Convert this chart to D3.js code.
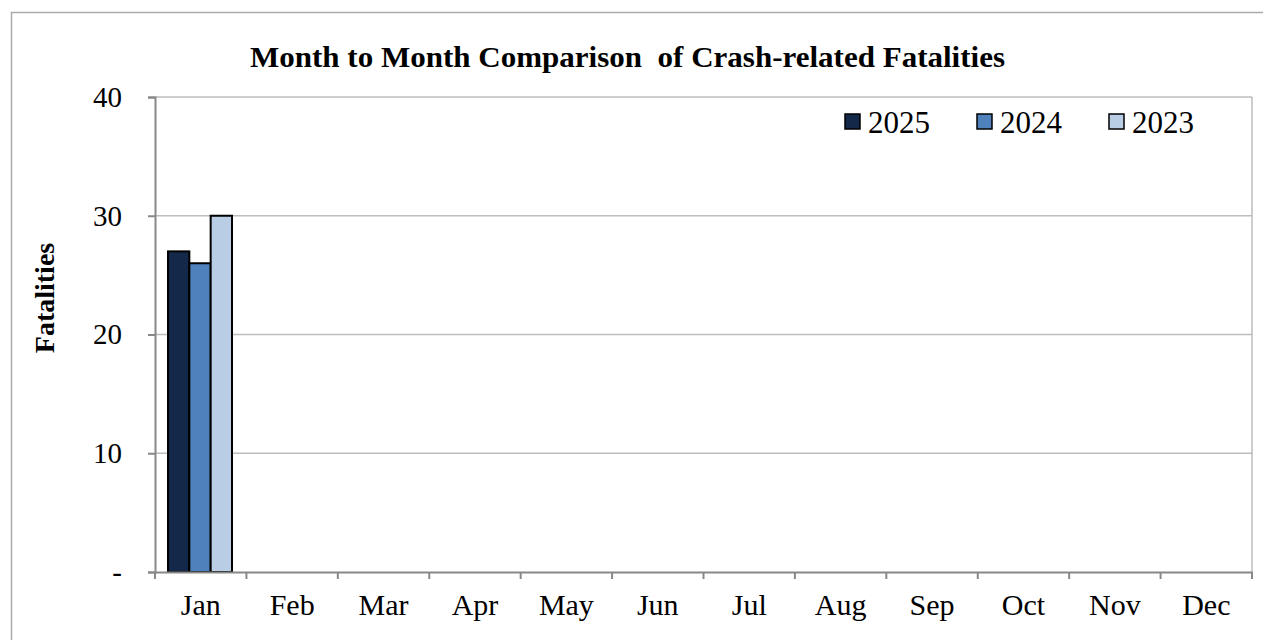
<!DOCTYPE html>
<html><head><meta charset="utf-8">
<script src="https://cdn.jsdelivr.net/npm/d3@7"></script>
<style>body{margin:0;background:#fff}svg{display:block}text{font-family:"Liberation Serif","Times New Roman",serif}</style>
</head><body>
<svg id="c" width="1263" height="640"></svg>
<script>
const months = ["Jan","Feb","Mar","Apr","May","Jun","Jul","Aug","Sep","Oct","Nov","Dec"];
const seriesNames = ["2025","2024","2023"];
const values2025 = [27,null,null,null,null,null,null,null,null,null,null,null];
const values2024 = [26,null,null,null,null,null,null,null,null,null,null,null];
const values2023 = [30,null,null,null,null,null,null,null,null,null,null,null];
const colors = ["#14294a","#4f81bd","#b9cde5"];
const yTicks = [0,10,20,30,40];

const svg = d3.select("#c");
svg.append("rect").attr("x",11.5).attr("y",12.5).attr("width",1260).attr("height",640).attr("fill","none").attr("stroke","#aaa").attr("stroke-width",1.5);

const L=155,R=1252,T=97,B=572;
const x = d3.scaleBand().domain(months).range([L,R]).paddingInner(0).paddingOuter(0);
const y = d3.scaleLinear().domain([0,40]).range([B,T]);
const data = [values2025,values2024,values2023];
const x1 = d3.scaleBand().domain(seriesNames).range([13,13+64]);

// gridlines
svg.append("g").selectAll("line").data(yTicks.filter(d=>d>0)).join("line")
  .attr("x1",L).attr("x2",R).attr("y1",d=>y(d)).attr("y2",d=>y(d))
  .attr("stroke","#bdbdbd").attr("stroke-width",1.5);
svg.append("line").attr("x1",R).attr("x2",R).attr("y1",T).attr("y2",B).attr("stroke","#bdbdbd").attr("stroke-width",1.5);

// bars
seriesNames.forEach((s,i)=>{
  svg.append("g").selectAll("rect").data(months.map((m,j)=>({m,v:data[i][j]})).filter(d=>d.v!=null)).join("rect")
    .attr("x",d=>x(d.m)+x1(s)).attr("width",x1.bandwidth())
    .attr("y",d=>y(d.v)).attr("height",d=>B-y(d.v))
    .attr("fill",colors[i]).attr("stroke","#000").attr("stroke-width",2);
});

// y axis
const ya = svg.append("g").attr("transform",`translate(${L},0)`)
  .call(d3.axisLeft(y).tickValues(yTicks).tickSize(7).tickPadding(26).tickFormat(d=>d===0?"-":d));
ya.select(".domain").attr("stroke","#888").attr("stroke-width",2);
ya.selectAll(".tick line").attr("stroke","#888").attr("stroke-width",2);
ya.selectAll("text").attr("font-size",29).attr("fill","#000").attr("font-family","Liberation Serif");

// x axis
const xa = svg.append("g").attr("transform",`translate(0,${B})`)
  .call(d3.axisBottom(x).tickSize(0).tickPadding(22));
xa.select(".domain").attr("stroke","#888").attr("stroke-width",2);
xa.selectAll("text").attr("font-size",30).attr("fill","#000").attr("font-family","Liberation Serif");
const bounds = months.map(m=>x(m)).concat([R]);
svg.append("g").selectAll("line").data(bounds).join("line")
  .attr("x1",d=>d).attr("x2",d=>d).attr("y1",B).attr("y2",B+7).attr("stroke","#888").attr("stroke-width",2);

// title
svg.append("text").attr("x",250).attr("y",67)
  .attr("font-size",29).attr("font-weight","bold")
  .attr("textLength",755).attr("lengthAdjust","spacingAndGlyphs")
  .style("white-space","pre").text("Month to Month Comparison  of Crash-related Fatalities");
svg.append("text").attr("transform","translate(54,298) rotate(-90)").attr("text-anchor","middle")
  .attr("font-size",28).attr("font-weight","bold").text("Fatalities");

// legend
const lx = [845,977,1109];
seriesNames.forEach((s,i)=>{
  svg.append("rect").attr("x",lx[i]).attr("y",114).attr("width",15).attr("height",15)
    .attr("fill",colors[i]).attr("stroke","#000").attr("stroke-width",1.5);
  svg.append("text").attr("x",lx[i]+23).attr("y",133).attr("font-size",31).text(s);
});
</script>
</body></html>
